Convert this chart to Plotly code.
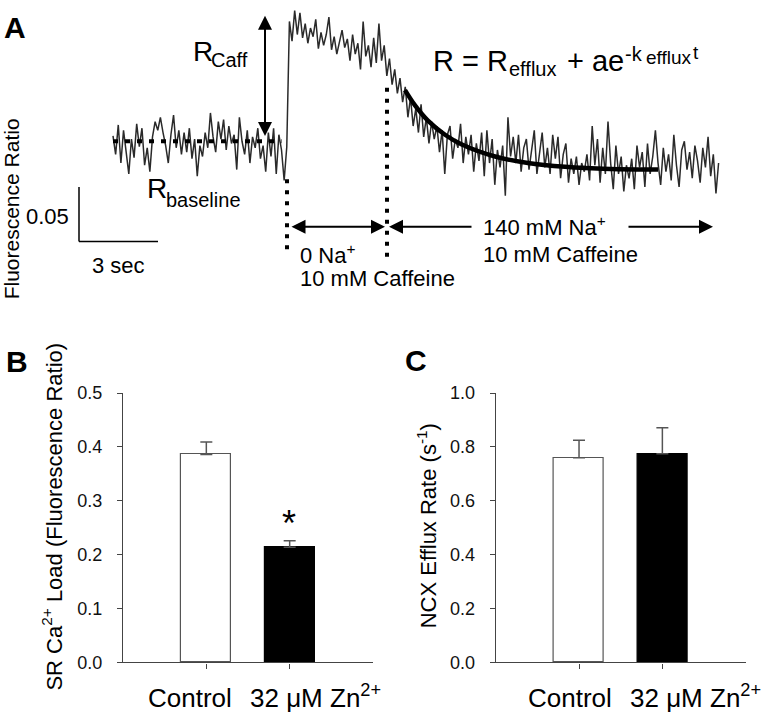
import plotly.graph_objects as go

# ---------------- data ----------------
# Panel A: fluorescence ratio trace (milli-ratio units relative to baseline), sampled every 0.1 s
SAMPLE_DT = 0.1
trace_milli = [
    5, -12, 15, -20, 10, -8, -30, 2, -15, 16,
    -5, 12, -22, -6, -28, 4, 18, 10, 22, 8,
    -4, -20, 6, 24, -6, 10, -12, 8, -10, 12,
    -16, 2, -32, -4, -14, 8, -6, 26, 4, -10,
    18, 2, 20, -8, 14, -2, 6, -26, 22, 0,
    -12, 10, -20, 4, -6, 12, -16, -4, -28, 8,
    -14, 12, -30, 6, -8, -36,
    -5,
    110, 92, 120, 98, 118, 95, 108, 90, 104, 96,
    112, 85, 100, 88, 98, 114, 84, 96, 80, 92,
    102, 86, 94, 74, 98, 80, 90, 66, 110, 78,
    88, 68, 95, 72, 108, 74, 88, 60, 76, 52,
    66, 44, 58, 36, 50, 22, 40, 14,
    30, 8, 34, 4, 22, -2, 18, 2, 14, -10,
    10, -30, 6, 14, -16, 2, -6, 16, -20, 4,
    -12, 6, -28, -2, -18, 8, -32, 10, -20, 2,
    -40, -8, -24, -4, -50, 22, -14, 4, -20, 6,
    -28, -6, 2, -26, -10, 10, -30, -12, 8, -24,
    -6, -30, 6, -16, 4, -34, -12, -2, -38, -16,
    -30, -14, -40, -20, -28, -12, -36, 14, -22, 2,
    -38, -6, -30, 18, -20, -44, -4, -30, -14, -46,
    -22, -34, -16, -44, -4, -24, -10, -42, -2, -30,
    -14, 10, -20, -40, -6, -28, -12, -36, 6, -22,
    -42, -8, 0, -26, -10, -34, -4, -18, -38, -6,
    -24, 4, -32, -12, -48, -20,
]
trace_t = [i * SAMPLE_DT for i in range(len(trace_milli))]
trace_r = [v / 1000 for v in trace_milli]

# exponential fit curve
fit_t = [11.09, 11.47, 11.96, 12.61, 13.25, 14.51, 15.76, 17.17, 18.88, 20.70]
fit_r = [0.047, 0.033, 0.019, 0.006, -0.003, -0.014, -0.020, -0.0235, -0.0255, -0.026]

baseline_t = [0.0, 6.4]
baseline_r = [0.0, 0.0]

# Panel B / C bar data
categories = ["Control", "32 μM Zn<sup>2+</sup>"]
sr_load = [0.386, 0.214]
sr_load_err = [0.023, 0.012]
ncx_rate = [0.760, 0.775]
ncx_rate_err = [0.065, 0.096]
b_ticks = [0.0, 0.1, 0.2, 0.3, 0.4, 0.5]
c_ticks = [0.0, 0.2, 0.4, 0.6, 0.8, 1.0]

# ---------------- layout helpers ----------------
W, H = 763, 723
def PX(x): return x / W
def PY(y): return 1 - y / H

PX_PER_S = 26.33
PX_PER_R = 1120.0
T0_PX, R0_PY = 113, 135
def T(px): return (px - T0_PX) / PX_PER_S
def R(py): return (R0_PY - py) / PX_PER_R

FONT = "Arial, Liberation Sans, sans-serif"
AX_COL = "#444444"

fig = go.Figure()

# ---------- Panel A ----------
fig.add_trace(go.Scatter(x=trace_t, y=trace_r, mode="lines",
                         line=dict(color="#2a2a2a", width=1.5),
                         xaxis="x3", yaxis="y3", showlegend=False, hoverinfo="skip"))
fig.add_trace(go.Scatter(x=baseline_t, y=baseline_r, mode="lines",
                         line=dict(color="black", width=4, dash="5px,7px"),
                         xaxis="x3", yaxis="y3", showlegend=False, hoverinfo="skip"))
fig.add_trace(go.Scatter(x=fit_t, y=fit_r, mode="lines",
                         line=dict(color="black", width=4.5, shape="spline"),
                         xaxis="x3", yaxis="y3", showlegend=False, hoverinfo="skip"))

# ---------- Panel B ----------
fig.add_trace(go.Bar(x=[0, 1], y=sr_load, width=0.6,
                     marker=dict(color=["white", "black"], line=dict(color=["#555555", "black"], width=1.2)),
                     error_y=dict(type="data", array=sr_load_err, arrayminus=[0, 0], symmetric=False,
                                  color="#555555", thickness=1.5, width=6),
                     xaxis="x", yaxis="y", showlegend=False))
# ---------- Panel C ----------
fig.add_trace(go.Bar(x=[0, 1], y=ncx_rate, width=0.6,
                     marker=dict(color=["white", "black"], line=dict(color=["#555555", "black"], width=1.2)),
                     error_y=dict(type="data", array=ncx_rate_err, arrayminus=[0, 0], symmetric=False,
                                  color="#555555", thickness=1.5, width=6),
                     xaxis="x2", yaxis="y2", showlegend=False))

shapes = []
# scale bar
shapes.append(dict(type="line", xref="x3", yref="y3", x0=T(79), x1=T(79), y0=R(182), y1=R(238),
                   line=dict(color="black", width=1.5)))
shapes.append(dict(type="line", xref="x3", yref="y3", x0=T(79), x1=T(158), y0=R(238), y1=R(238),
                   line=dict(color="black", width=1.5)))
# dotted vertical markers
shapes.append(dict(type="line", xref="x3", yref="y3", x0=T(287), x1=T(287), y0=R(174), y1=R(248),
                   line=dict(color="black", width=4, dash="4px,7px")))
shapes.append(dict(type="line", xref="x3", yref="y3", x0=T(387), x1=T(387), y0=R(80), y1=R(259),
                   line=dict(color="black", width=4, dash="4px,7px")))

ann = []
def text(x, y, s, size, xanchor="left", yanchor="middle", bold=False, textangle=0):
    ann.append(dict(x=PX(x), y=PY(y), xref="paper", yref="paper", text=s, showarrow=False,
                    xanchor=xanchor, yanchor=yanchor, textangle=textangle, borderpad=0,
                    font=dict(family=FONT, size=size, color="black",
                              weight="bold" if bold else "normal")))

def base_text(x, baseline, s, size):
    # place text so that its baseline sits at the given pixel row
    text(x, baseline - 0.3465 * size, s, size)

def arrow(x_tip, y_tip, x_tail, y_tail, both=False):
    ann.append(dict(x=T(x_tip), y=R(y_tip), ax=T(x_tail), ay=R(y_tail),
                    xref="x3", yref="y3", axref="x3", ayref="y3", text="",
                    showarrow=True, arrowhead=2, arrowsize=1.4, arrowwidth=2, arrowcolor="black",
                    startarrowhead=2, startarrowsize=1.4,
                    arrowside="end+start" if both else "end", standoff=0, startstandoff=0))

# R_Caff double arrow
arrow(265, 6, 265, 131, both=True)
# 0 Na+ range
arrow(385, 223, 290, 223, both=True)
# 140 mM Na+ range
arrow(389, 223, 473, 223)
arrow(713, 223, 627, 223)

# panel letters
text(15, 18, "A", 30, xanchor="center", bold=True)
text(17, 361, "B", 30, xanchor="center", bold=True)
text(416, 360, "C", 30, xanchor="center", bold=True)

# panel A texts
text(11, 205, "Fluorescence Ratio", 21, xanchor="center", textangle=-90)
base_text(192, 52, "R", 28)
base_text(210, 58, "Caff", 20)
base_text(146, 193, "R", 28)
base_text(165, 202, "baseline", 20)
base_text(25, 220, "0.05", 22)
text(118, 263, "3 sec", 22, xanchor="center")
base_text(299, 259, "0 Na<sup>+</sup>", 22)
base_text(299, 284, "10 mM Caffeine", 22)
base_text(482, 230, "140 mM Na<sup>+</sup>", 22)
base_text(482, 259, "10 mM Caffeine", 22)
# equation  R = R_efflux + a e^(-k_efflux t)
base_text(432, 62, "R = R", 29)
base_text(508, 68, "efflux", 20)
base_text(566, 62, "+ ae", 29)
base_text(624, 52, "-k", 20)
base_text(645, 55, "efflux", 19)
base_text(692, 50, "t", 19)

# panel B / C texts
text(52, 521, "SR Ca<sup>2+</sup> Load (Fluorescence Ratio)", 22, xanchor="center", textangle=-90)
text(427, 531, "NCX Efflux Rate (s<sup>-1</sup>)", 22, xanchor="center", textangle=-90)
text(289, 528, "*", 36, xanchor="center")
for dx in (0, 380):
    text(190 + dx, 708, categories[0], 26, xanchor="center")
    text(249 + dx, 706, categories[1], 26)

axis_common = dict(showgrid=False, zeroline=False, showline=True, linecolor=AX_COL, linewidth=1.3,
                   ticks="outside", ticklen=5, tickcolor=AX_COL, tickwidth=1.3)

fig.update_layout(
    width=W, height=H, margin=dict(l=0, r=0, t=0, b=0),
    paper_bgcolor="white", plot_bgcolor="rgba(0,0,0,0)",
    showlegend=False, bargap=0,
    font=dict(family=FONT, color="black"),
    xaxis=dict(domain=[PX(123), PX(373)], range=[-1, 2], tickvals=[0, 1], showticklabels=False,
               anchor="y", **axis_common),
    yaxis=dict(domain=[PY(671), PY(394)], range=[0, 0.5], tickvals=b_ticks, tickformat=".1f",
               tickfont=dict(size=18, family=FONT, color="#111"), ticklabelstandoff=11,
               anchor="x", **axis_common),
    xaxis2=dict(domain=[PX(495.7), PX(745.7)], range=[-1, 2], tickvals=[0, 1], showticklabels=False,
                anchor="y2", **axis_common),
    yaxis2=dict(domain=[PY(671), PY(394)], range=[0, 1.0], tickvals=c_ticks, tickformat=".1f",
                tickfont=dict(size=18, family=FONT, color="#111"), ticklabelstandoff=11,
                anchor="x2", **axis_common),
    xaxis3=dict(domain=[0, 1], range=[T(0), T(W)], visible=False, anchor="y3"),
    yaxis3=dict(domain=[0, 1], range=[R(H), R(0)], visible=False, anchor="x3"),
    shapes=shapes, annotations=ann,
)

POST = (
    "document.documentElement.style.margin='0';"
    "document.body.style.margin='0';"
    "document.documentElement.style.overflow='hidden';"
    "document.body.style.overflow='hidden';"
    "var d=document.querySelector('.plotly-graph-div');"
    "d.style.position='fixed';d.style.left='0px';d.style.top='0px';"
)
fig.write_html("out.html", config={"displayModeBar": False}, post_script=POST)
